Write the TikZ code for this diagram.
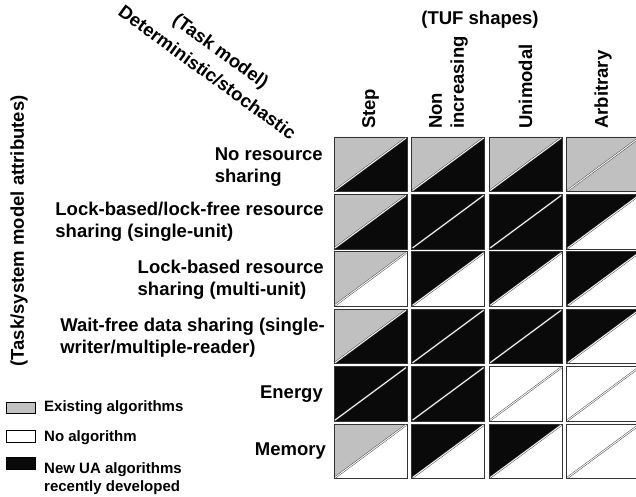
\documentclass[tikz,border=0pt]{standalone}
\usepackage{fontspec}
\setmainfont{Liberation Sans}
\definecolor{cgray}{HTML}{C0C0C0}
\definecolor{cblack}{HTML}{0A0A0A}
\tikzset{
  lab/.style={font=\bfseries\fontsize{18.5}{22}\selectfont, inner sep=0pt},
  rowlab/.style={lab, align=left, anchor=east},
  collab/.style={lab, rotate=90, anchor=west, align=left},
  leglab/.style={font=\bfseries\fontsize{15}{18}\selectfont, inner sep=0pt, anchor=west, align=left},
  legbox/.style={draw=black, line width=0.6pt},
  cellborder/.style={draw=black!80, line width=0.8pt},
  diag/.style={draw=black!70, line width=0.5pt, double=white, double distance=0.9pt}
}
\newcommand{\tufcell}[4]{%
  \pgfmathsetmacro{\cx}{334+77.6*#1}%
  \pgfmathsetmacro{\cy}{137+57.4*#2}%
  \fill[#4] (\cx,\cy) rectangle ++(73,54.5);
  \fill[#3] (\cx,\cy+54.5) -- (\cx,\cy) -- (\cx+73,\cy) -- cycle;
  \draw[cellborder] (\cx,\cy) rectangle ++(73,54.5);
  \draw[diag] (\cx+1,\cy+53.5) -- (\cx+72,\cy+1);
}
\begin{document}
\begin{tikzpicture}[x=1pt,y=-1pt]
\useasboundingbox (0,0) rectangle (636,497);
\clip (0,0) rectangle (636,497);
\fill[white] (0,0) rectangle (636,497);

% header texts
\node[lab] (tuf) at (480,20) {(TUF shapes)};
\node[lab, rotate=-36] (taskmodel) at (220,52) {(Task model)};
\node[lab, rotate=-36] (detsto) at (207.5,72.5) {Deterministic/stochastic};
\node[lab, rotate=90] (attr) at (19,231) {(Task/system model attributes)};

\node[collab] (cstep) at (370.5,129) {Step};
\node[collab] (cnon) at (448.5,129) {Non\\increasing};
\node[collab] (cuni) at (525.5,129) {Unimodal};
\node[collab] (carb) at (603,129) {Arbitrary};

% row labels
\node[rowlab] (r1) at (323,167.5) {No resource\\sharing};
\node[rowlab] (r2) at (324,222) {Lock-based/lock-free resource\\sharing (single-unit)};
\node[rowlab] (r3) at (324,280) {Lock-based resource\\sharing (multi-unit)};
\node[rowlab] (r4) at (325,337.5) {Wait-free data sharing (single-\\writer/multiple-reader)};
\node[rowlab] (r5) at (323,394) {Energy};
\node[rowlab] (r6) at (326,451.5) {Memory};

% cells: col row upper lower
\tufcell{0}{0}{cgray}{cblack}
\tufcell{1}{0}{cgray}{cblack}
\tufcell{2}{0}{cgray}{cblack}
\tufcell{3}{0}{cgray}{cgray}

\tufcell{0}{1}{cgray}{cblack}
\tufcell{1}{1}{cblack}{cblack}
\tufcell{2}{1}{cblack}{cblack}
\tufcell{3}{1}{cblack}{white}

\tufcell{0}{2}{cgray}{white}
\tufcell{1}{2}{cblack}{white}
\tufcell{2}{2}{cblack}{white}
\tufcell{3}{2}{cblack}{white}

\tufcell{0}{3}{cgray}{cblack}
\tufcell{1}{3}{cblack}{cblack}
\tufcell{2}{3}{cblack}{cblack}
\tufcell{3}{3}{cblack}{white}

\tufcell{0}{4}{cblack}{cblack}
\tufcell{1}{4}{cblack}{cblack}
\tufcell{2}{4}{white}{white}
\tufcell{3}{4}{white}{white}

\tufcell{0}{5}{cgray}{white}
\tufcell{1}{5}{cblack}{white}
\tufcell{2}{5}{cblack}{white}
\tufcell{3}{5}{white}{white}

% legend
\draw[legbox, fill=cgray] (6,402) rectangle (35,413);
\draw[legbox, fill=white] (6,430) rectangle (35,442);
\draw[legbox, fill=cblack] (6,457) rectangle (35,469);
\node[leglab] (lexist) at (44,408) {Existing algorithms};
\node[leglab] (lnone) at (44,438) {No algorithm};
\node[leglab] (lnew) at (44,478.5) {New UA algorithms\\recently developed};
\end{tikzpicture}
\end{document}
